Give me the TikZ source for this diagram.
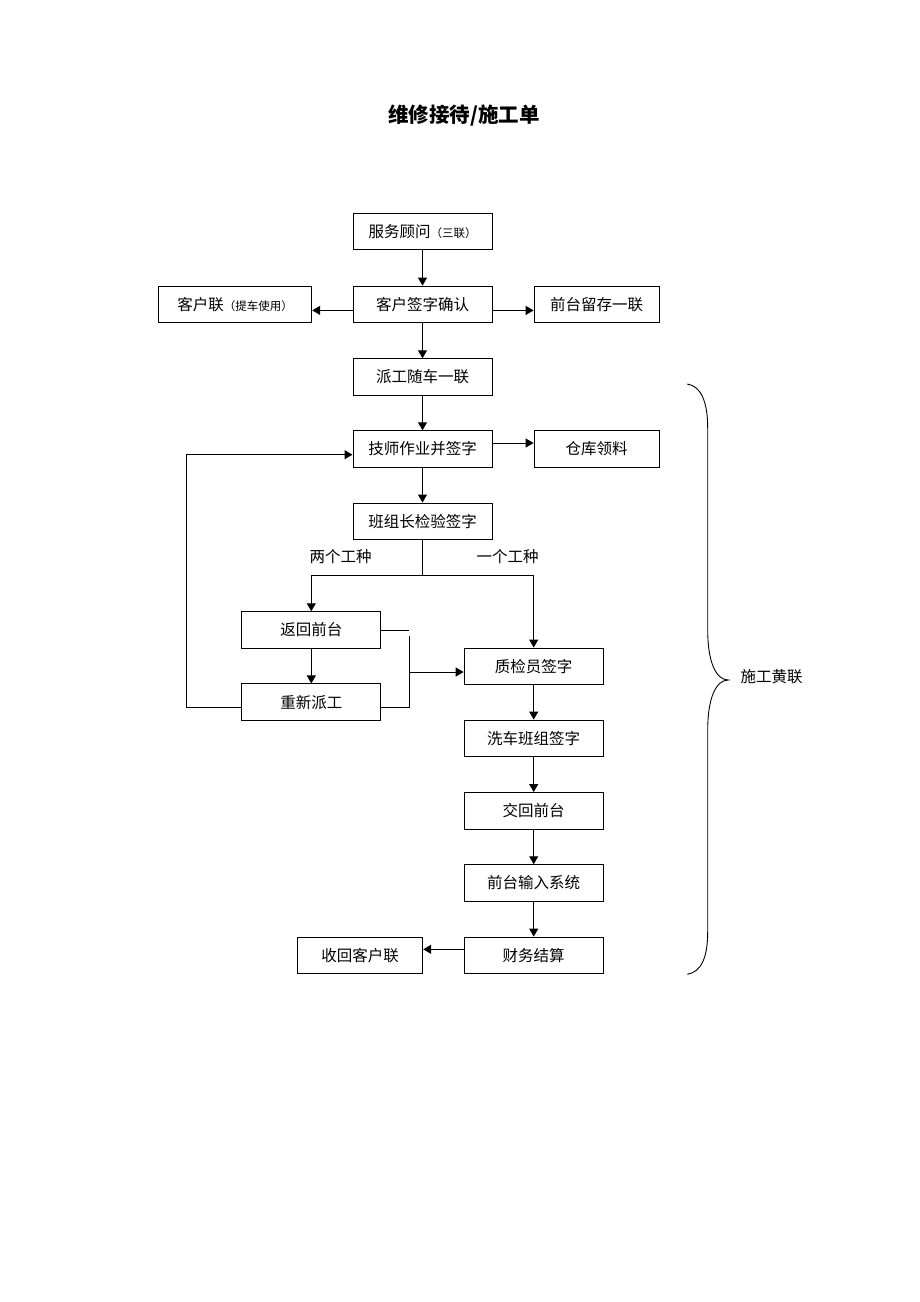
\documentclass[tikz,border=0pt]{standalone}
\usepackage{fontspec}
\usepackage{tikz}
\usetikzlibrary{arrows.meta}
\setmainfont{Noto Sans CJK SC}
\newcommand{\smallpar}[1]{{\fontsize{11.5}{13}\selectfont #1}}

\begin{document}
\begin{tikzpicture}[x=1pt,y=-1pt,
  box/.style={draw,line width=1pt,minimum width=139pt,minimum height=36.5pt,inner sep=0pt,font=\fontsize{15.5}{18}\selectfont},
  sidebox/.style={box,minimum width=125pt},
  arr/.style={line width=1pt,-{Triangle[length=8pt,width=9pt]}},
  ln/.style={line width=1pt},
  lbl/.style={inner sep=0pt,font=\fontsize{15.5}{18}\selectfont}]
 	\useasboundingbox (0,0) rectangle (920,1302);
 	% title
 	\node [inner sep=0pt,font=\fontsize{20.5}{24}\selectfont\bfseries] (title) at (464,116) {维修接待/施工单};
 	% main column
 	\node [box] (fuwu) at (422.5,231.7) {服务顾问\smallpar{（三联）}};
 	\node [box] (kehu) at (422.5,304.4) {客户签字确认};
 	\node [box,minimum width=153.4pt] (kehulian) at (235,304.4) {客户联\smallpar{（提车使用）}};
 	\node [sidebox] (liucun) at (596.6,304.4) {前台留存一联};
 	\node [box] (paigong) at (422.5,377) {派工随车一联};
 	\node [box] (jishi) at (422.5,449) {技师作业并签字};
 	\node [sidebox] (cangku) at (596.6,449) {仓库领料};
 	\node [box] (banzu) at (422.5,521.3) {班组长检验签字};
 	\node [lbl] (liang) at (340.7,557) {两个工种};
 	\node [lbl] (yige) at (507.7,557) {一个工种};
 	% left branch
 	\node [box] (fanhui) at (311.3,630) {返回前台};
 	\node [box] (chongxin) at (311.3,702.2) {重新派工};
 	% right column
 	\node [box] (zhijian) at (533.7,666.3) {质检员签字};
 	\node [box] (xiche) at (533.7,738.3) {洗车班组签字};
 	\node [box] (jiaohui) at (533.7,810.8) {交回前台};
 	\node [box] (shuru) at (533.7,883) {前台输入系统};
 	\node [box] (caiwu) at (533.7,955.3) {财务结算};
 	\node [sidebox] (shouhui) at (360.2,955.3) {收回客户联};
 	\node [lbl] (huang) at (771.7,676.7) {施工黄联};
 	% connectors
 	\draw [arr] (fuwu) -- (kehu);
 	\draw [arr] ([yshift=-6pt]kehu.west) -- ([yshift=-6pt]kehulian.east);
 	\draw [arr] ([yshift=-6pt]kehu.east) -- ([yshift=-6pt]liucun.west);
 	\draw [arr] (kehu) -- (paigong);
 	\draw [arr] (paigong) -- (jishi);
 	\draw [arr] ([yshift=6pt]jishi.east) -- ([yshift=6pt]cangku.west);
 	\draw [arr] (jishi) -- (banzu);
 	\coordinate (fork) at (422.5,575);
 	\draw [ln] (banzu.south) -- (fork);
 	\draw [arr] (fork) -| (fanhui.north);
 	\draw [arr] (fork) -| (zhijian.north);
 	\draw [arr] (fanhui) -- (chongxin);
 	\coordinate (jtop) at (409,630);
 	\coordinate (jmid) at (409,672);
 	\coordinate (jbot) at (409,707.7);
 	\draw [ln] (fanhui.east) -- (jtop);
 	\draw [ln] ([yshift=-5.5pt]chongxin.east) -- (jbot) -- ([yshift=-6pt]jtop);
 	\draw [arr] (jmid) -- ([yshift=-5.7pt]zhijian.west);
 	\coordinate (loop) at (186.3,707.7);
 	\draw [arr] ([yshift=-5.5pt]chongxin.west) -- (loop) |- ([yshift=-5.7pt]jishi.west);
 	\draw [arr] (zhijian) -- (xiche);
 	\draw [arr] (xiche) -- (jiaohui);
 	\draw [arr] (jiaohui) -- (shuru);
 	\draw [arr] (shuru) -- (caiwu);
 	\draw [arr] ([yshift=6pt]caiwu.west) -- ([yshift=6pt]shouhui.east);
 	% brace
 	\draw [line width=0.9pt] (687.3,384) .. controls (701,386) and (707.7,402) .. (707.7,428) -- (707.7,630)
 	  .. controls (707.7,662) and (716,680) .. (728.3,680)
 	  .. controls (716,680) and (707.7,698) .. (707.7,730) -- (707.7,932)
 	  .. controls (707.7,958) and (701,972) .. (687.3,974.3);
\end{tikzpicture}
\end{document}
